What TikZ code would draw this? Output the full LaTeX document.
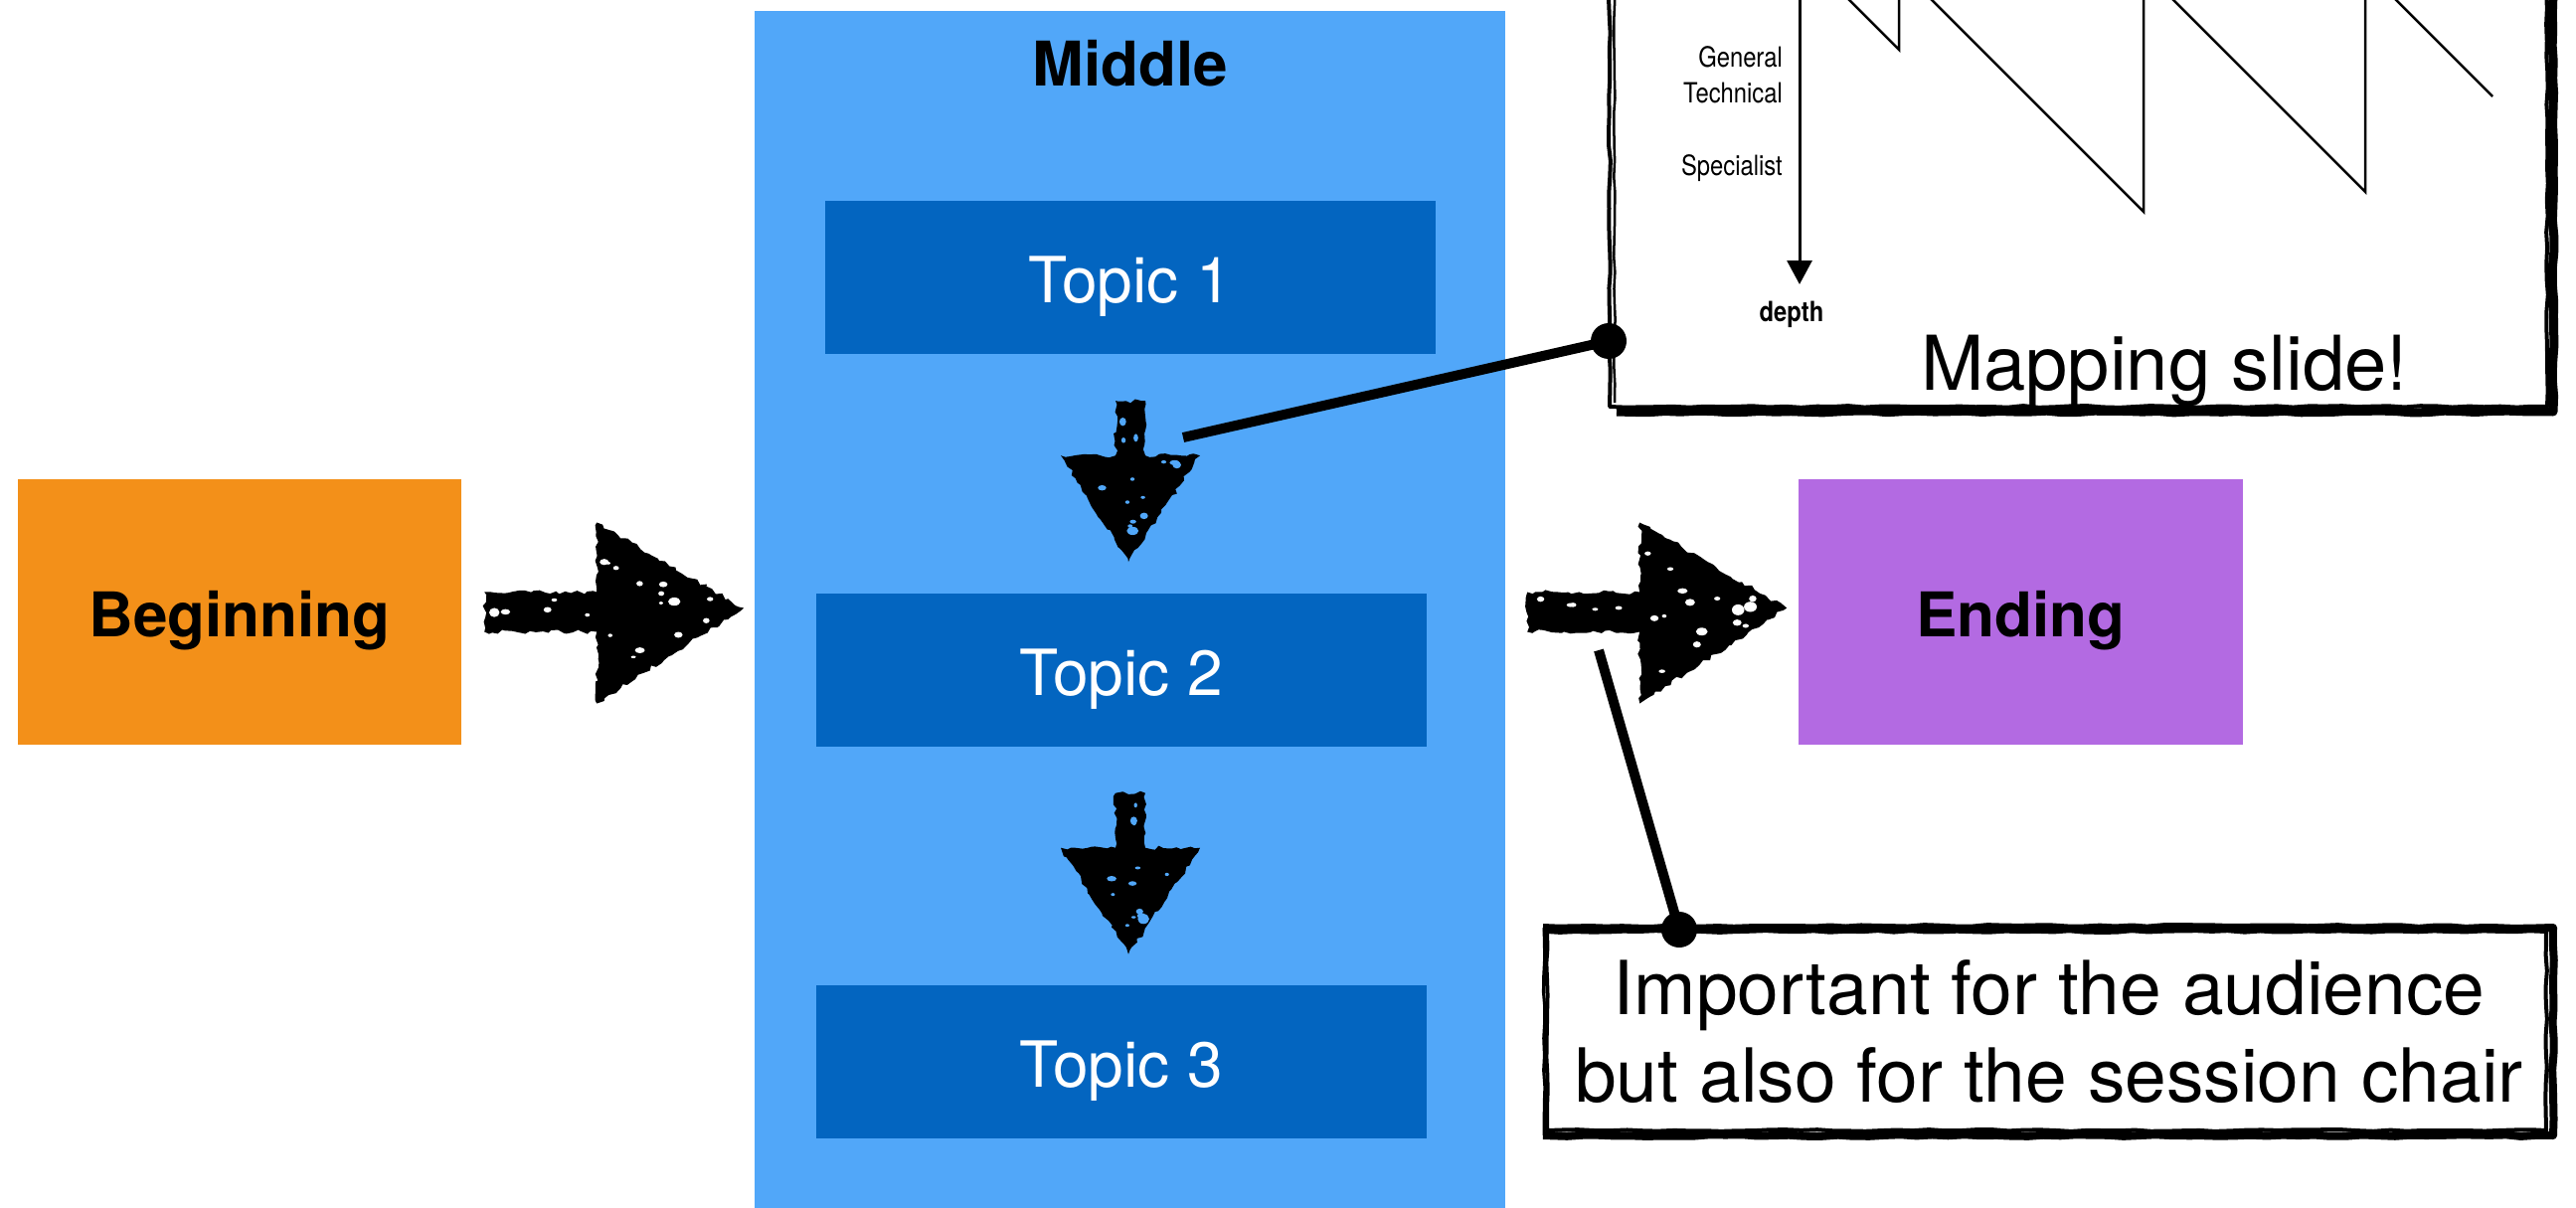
\documentclass[tikz,border=0pt]{standalone}
\usepackage{fontspec}
\setmainfont{TeX Gyre Heros}
\usetikzlibrary{arrows.meta,decorations.pathmorphing,calc}
\definecolor{korange}{HTML}{F39019}
\definecolor{kblue}{HTML}{51A7F9}
\definecolor{kdblue}{HTML}{0365C0}
\definecolor{kpurple}{HTML}{B36AE2}
\tikzset{
  box/.style={rectangle, inner sep=0pt, text height=50pt, text depth=0pt},
  boldtxt/.style={font=\fontsize{62}{74}\selectfont\bfseries},
  topicbox/.style={rectangle, inner sep=0pt, text height=51pt, text depth=0pt, fill=kdblue, text=white, minimum width=614pt, minimum height=154pt, font=\fontsize{64}{76}\selectfont},
  roughfill/.style={fill=black, decorate, decoration={random steps, segment length=5pt, amplitude=2.2pt}},
  rough/.style={draw=black, decorate, decoration={random steps, segment length=16pt, amplitude=0.9pt}, line join=round},
  conn/.style={line width=10pt},
  dot/.style={circle, fill=black, inner sep=0pt, minimum size=36pt},
  axislbl/.style={font=\fontsize{28}{32}\selectfont, inner sep=0pt},
  saw/.style={line width=2.5pt},
  rarrow/.pic={
    \fill[roughfill] (0,-19) -- (113,-19) -- (113,-89) -- (261,-3) -- (113,93) -- (113,21) -- (0,21) -- cycle;
    \foreach \kk in {1,...,15} {
      \pgfmathsetmacro\uu{rnd*0.8}
      \pgfmathsetmacro\vv{rand*0.85}
      \pgfmathsetmacro\px{120+\uu*135}
      \pgfmathsetmacro\py{\vv*(1-\uu)*82}
      \pgfmathsetmacro\rr{2+rnd*4.5}
      \pgfmathsetmacro\ry{\rr*(0.5+0.4*rnd)}
      \fill[#1] (\px,\py) ellipse [x radius=\rr pt, y radius=\ry pt];
    }
    \foreach \kk in {1,...,5} {
      \pgfmathsetmacro\px{10+rnd*95}
      \pgfmathsetmacro\py{rand*12}
      \pgfmathsetmacro\rr{2+rnd*3.5}
      \pgfmathsetmacro\ry{\rr*(0.5+0.4*rnd)}
      \fill[#1] (\px,\py) ellipse [x radius=\rr pt, y radius=\ry pt];
    }
  },
  darrow/.pic={
    \fill[roughfill] (-15,0) -- (15,0) -- (15,55) -- (70,55) -- (-2,162) -- (-70,55) -- (-15,55) -- cycle;
    \foreach \kk in {1,...,11} {
      \pgfmathsetmacro\uu{rnd*0.8}
      \pgfmathsetmacro\vv{rand*0.85}
      \pgfmathsetmacro\py{60+\uu*92}
      \pgfmathsetmacro\px{\vv*(1-\uu)*62}
      \pgfmathsetmacro\rr{2+rnd*4}
      \pgfmathsetmacro\ry{\rr*(0.5+0.4*rnd)}
      \fill[#1] (\px,\py) ellipse [x radius=\rr pt, y radius=\ry pt];
    }
    \foreach \kk in {1,...,3} {
      \pgfmathsetmacro\py{8+rnd*42}
      \pgfmathsetmacro\px{rand*8}
      \pgfmathsetmacro\rr{2+rnd*2.5}
      \pgfmathsetmacro\ry{\rr*(0.5+0.4*rnd)}
      \fill[#1] (\px,\py) ellipse [x radius=\ry pt, y radius=\rr pt];
    }
  },
}
\pgfmathsetseed{11}
\begin{document}
\begin{tikzpicture}[x=1pt,y=-1pt]
\useasboundingbox (0,0) rectangle (2591,1215);
\clip (0,0) rectangle (2591,1215);
\fill[white] (0,0) rectangle (2591,1215);

% main boxes
\node[box, boldtxt, fill=korange, minimum width=446pt, minimum height=267pt] (begin) at (241,615.5) {Beginning};
\node[rectangle, inner sep=0pt, fill=kblue, minimum width=755pt, minimum height=1230pt] (middle) at (1136.5,626) {};
\node[boldtxt, anchor=base, inner sep=0pt] (midtitle) at (1137,86) {Middle};
\node[topicbox] (topic1) at (1137,279) {Topic 1};
\node[topicbox] (topic2) at (1128,673.5) {Topic 2};
\node[topicbox] (topic3) at (1128,1068) {Topic 3};
\node[box, boldtxt, fill=kpurple, minimum width=447pt, minimum height=267pt] (ending) at (2032.5,615.5) {Ending};

% sketchy block arrows
\pic (ar1) at ($(begin.east)+(23,-1)$) {rarrow=white};
\pic (ar2) at ($(begin.east -| middle.east)+(22,-1)$) {rarrow=white};
\pic (ad1) at ($(topic1.south)+(0,47)$) {darrow=kblue};
\pic (ad2) at ($(topic2.south)+(9,47)$) {darrow=kblue};

% mapping slide
\coordinate (axtop) at (1810,-20);
\coordinate (axend) at (1810,286);
\draw[line width=3pt, -{Triangle[width=25pt,length=24pt]}] (axtop) -- (axend);
\node[axislbl, anchor=base east] (lgen) at (1793,67) {\scalebox{0.85}[1]{General}};
\node[axislbl, anchor=base east] (ltech) at (1793,103) {\scalebox{0.85}[1]{Technical}};
\node[axislbl, anchor=base east] (lspec) at (1793,176) {\scalebox{0.85}[1]{Specialist}};
\node[axislbl, anchor=base] (ldepth) at (1802,323) {\scalebox{0.85}[1]{\bfseries depth}};
\draw[saw] (1840,-20) -- (1910,50) -- (1910,-20);
\draw[saw] (1923,-20) -- (2156,213) -- (2156,-20);
\draw[saw] (2166,-20) -- (2379,193) -- (2379,-20);
\draw[saw] (2390,-20) -- (2507,97);
\node[font=\fontsize{76}{88}\selectfont, anchor=base, inner sep=0pt] (maptxt) at (2177,392) {Mapping slide!};
% frame of mapping slide
\draw[rough, line width=4pt] (1619,-30) -- (1619,409) -- (2562,409) -- (2562,-30);
\draw[rough, line width=2.5pt] (1624,-30) -- (1624,405);
\draw[rough, line width=9pt] (1626,414) -- (2568,414) -- (2568,-30);

% callout box
\node[rectangle, inner sep=0pt, minimum width=1011pt, minimum height=207pt, align=center,
      font=\fontsize{75}{88}\selectfont] (callout) at (2061,1038) {Important for the audience\\but also for the session chair};
\draw[rough, line width=4pt] (1556,937) rectangle (2561,1137);
\draw[rough, line width=8pt] (1552,933) -- (2568,933) -- (2568,1142) -- (1552,1142);
\draw[rough, line width=3pt] (1553,933) -- (1553,1142);

% connectors with dots
\coordinate (c1s) at (1190,440);
\node[dot] (dot1) at (1618,343) {};
\draw[conn] (c1s) -- (dot1.center);
\coordinate (c2s) at (1608,654);
\node[dot] (dot2) at (1689,935) {};
\draw[conn] (c2s) -- (dot2.center);
\end{tikzpicture}
\end{document}
